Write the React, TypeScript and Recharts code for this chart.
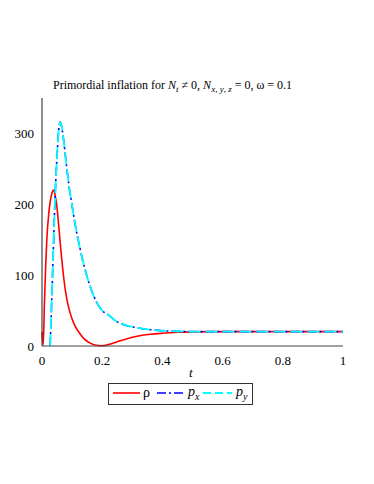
import React from "react";
import { LineChart, Line, XAxis, YAxis } from "recharts";

const tValues = [0, 0.004, 0.008, 0.012, 0.016, 0.022, 0.027, 0.032, 0.035, 0.038, 0.041, 0.044, 0.05, 0.055, 0.058, 0.06, 0.063, 0.066, 0.072, 0.08, 0.09, 0.1, 0.11, 0.125, 0.14, 0.16, 0.18, 0.2, 0.22, 0.25, 0.28, 0.32, 0.36, 0.4, 0.45, 0.5, 0.6, 0.7, 0.8, 0.9, 1.0];
const rhoValues = [20, 1, 60, 110, 150, 185, 203, 214, 218, 220, 218, 212, 195, 172, 158, 148, 134, 121, 97, 72, 52, 38, 28, 18, 10, 4, 1, 0.3, 2, 6, 10, 14, 16.5, 18, 19.3, 20, 20.3, 20.3, 20.3, 20.3, 20.3];
const pxValues = [null, null, null, null, null, null, 0, 60, 100, 140, 180, 215, 268, 302, 313, 316, 314, 308, 290, 260, 225, 198, 172, 140, 113, 84, 63, 50, 44, 34, 29, 25.5, 23, 21.5, 20.8, 20.4, 20.3, 20.3, 20.3, 20.3, 20.3];
const pyValues = [null, null, null, null, null, null, 0, 60, 100, 140, 180, 215, 268, 302, 313, 316, 314, 308, 290, 260, 225, 198, 172, 140, 113, 84, 63, 50, 44, 34, 29, 25.5, 23, 21.5, 20.8, 20.4, 20.3, 20.3, 20.3, 20.3, 20.3];

const xTicks = [0, 0.2, 0.4, 0.6, 0.8, 1];
const xMinorTicks = [0, 0.1, 0.2, 0.3, 0.4, 0.5, 0.6, 0.7, 0.8, 0.9, 1];
const yTicks = [0, 100, 200, 300];
const yMinorTicks = [0, 50, 100, 150, 200, 250, 300, 350];

const data = tValues.map((t, i) => ({ t, rho: rhoValues[i], px: pxValues[i], py: pyValues[i] }));

const serif = "Liberation Serif, Times New Roman, serif";

const fmtX = (v: number) => (v === 0 || v === 1 ? String(v) : v.toFixed(1));

const XTick = (props: any) => {
  const { x, y, payload } = props;
  return (
    <text x={x} y={y + 17} textAnchor="middle" fontFamily={serif} fontSize={13} fill="#000">
      {fmtX(payload.value)}
    </text>
  );
};

const YTick = (props: any) => {
  const { x, y, payload } = props;
  return (
    <text x={x - 6} y={y + 4.5} textAnchor="end" fontFamily={serif} fontSize={13} fill="#000">
      {String(payload.value)}
    </text>
  );
};

export default function App() {
  return (
    <div style={{ position: "absolute", left: 0, top: 0, width: 374, height: 484, background: "#fff", fontFamily: serif }}>
      <LineChart width={374} height={484} data={data} margin={{ top: 98, right: 31, bottom: 118, left: 12 }}>
        <XAxis dataKey="t" type="number" domain={[0, 1]} ticks={xTicks} height={20}
          tickLine={false} tickSize={0} tick={<XTick />}
          axisLine={{ stroke: "#444", strokeWidth: 1.2 }} />
        <XAxis xAxisId="minor" dataKey="t" type="number" domain={[0, 1]} ticks={xMinorTicks} height={20}
          mirror tick={false} tickSize={4} tickLine={{ stroke: "#777" }} axisLine={false} />
        <YAxis type="number" domain={[0, 350]} ticks={yTicks} width={30}
          tickLine={false} tickSize={0} tick={<YTick />}
          axisLine={{ stroke: "#444", strokeWidth: 1.2 }} />
        <YAxis yAxisId="minor" type="number" domain={[0, 350]} ticks={yMinorTicks} width={30}
          mirror tick={false} tickSize={4} tickLine={{ stroke: "#777" }} axisLine={false} />
        <Line dataKey="rho" stroke="#ff0000" strokeWidth={1.6} dot={false} isAnimationActive={false} type="monotone" />
        <Line dataKey="px" stroke="#0000ff" strokeWidth={1.6} strokeDasharray="9 3 2 3" dot={false} isAnimationActive={false} type="monotone" />
        <Line dataKey="py" stroke="#00ffff" strokeWidth={1.8} strokeDasharray="12 5" dot={false} isAnimationActive={false} type="monotone" />
      </LineChart>

      <div style={{ position: "absolute", left: 53, top: 78, fontSize: 12, lineHeight: "14px", whiteSpace: "nowrap", color: "#000" }}>
        Primordial inflation for <i>N</i><sub style={{ fontSize: 9, lineHeight: 0 }}><i>t</i></sub> ≠ 0, <i>N</i><sub style={{ fontSize: 9, lineHeight: 0 }}><i>x</i>, <i>y</i>, <i>z</i></sub> = 0, ω = 0.1
      </div>

      <div style={{ position: "absolute", left: 189, top: 365, fontSize: 13, fontStyle: "italic", lineHeight: "16px" }}>t</div>

      <div style={{ position: "absolute", left: 108, top: 383, width: 145, height: 22, border: "1px solid #333", boxSizing: "border-box" }}>
        <svg width={143} height={20} style={{ position: "absolute", left: 0, top: 0 }}>
          <line x1={4} y1={9} x2={31} y2={9} stroke="#ff0000" strokeWidth={1.6} />
          <line x1={48} y1={9} x2={76} y2={9} stroke="#0000ff" strokeWidth={1.6} strokeDasharray="9 3 2 3" />
          <line x1={94} y1={9} x2={123} y2={9} stroke="#00ffff" strokeWidth={1.8} strokeDasharray="8 4" />
        </svg>
        <span style={{ position: "absolute", left: 34, top: 1, fontSize: 14, lineHeight: "16px" }}>ρ</span>
        <span style={{ position: "absolute", left: 79, top: 0, fontSize: 14, lineHeight: "16px" }}><i>p</i><sub style={{ fontSize: 10, lineHeight: 0 }}><i>x</i></sub></span>
        <span style={{ position: "absolute", left: 127, top: 0, fontSize: 14, lineHeight: "16px" }}><i>p</i><sub style={{ fontSize: 10, lineHeight: 0 }}><i>y</i></sub></span>
      </div>
    </div>
  );
}
